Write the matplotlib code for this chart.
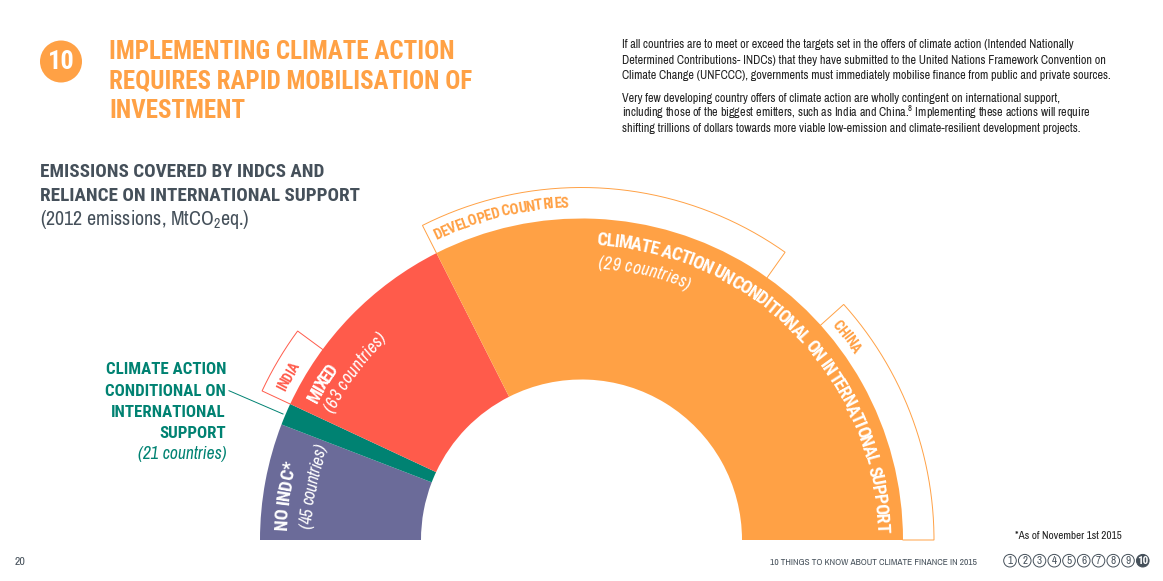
import numpy as np
import matplotlib
matplotlib.use("Agg")
import matplotlib.pyplot as plt
from matplotlib.patches import Wedge, Circle
from matplotlib.textpath import TextPath
from matplotlib.font_manager import FontProperties

# ---- data (share of 2012 emissions, % estimated from the arc angles)
groups = ["NO INDC*", "CLIMATE ACTION CONDITIONAL", "MIXED", "CLIMATE ACTION UNCONDITIONAL"]
emission_share = [11.7, 2.2, 21.2, 64.9]
group_colors = ["#6B6B99", "#008272", "#FF5B4B", "#FFA145"]
india_share = 6.3
developed_share = 34.5
china_share = 23.3
footer_numbers = list(range(1, 11))

title_lines = ["IMPLEMENTING CLIMATE ACTION", "REQUIRES RAPID MOBILISATION OF", "INVESTMENT"]
subtitle_lines = ["EMISSIONS COVERED BY INDCS AND", "RELIANCE ON INTERNATIONAL SUPPORT"]
label_lines = ["CLIMATE ACTION", "CONDITIONAL ON", "INTERNATIONAL", "SUPPORT"]
body_lines = [
    "If all countries are to meet or exceed the targets set in the offers of climate action (Intended Nationally",
    "Determined Contributions- INDCs) that they have submitted to the United Nations Framework Convention on",
    "Climate Change (UNFCCC), governments must immediately mobilise finance from public and private sources.",
    "Very few developing country offers of climate action are wholly contingent on international support,",
    "including those of the biggest emitters, such as India and China.$^{8}$ Implementing these actions will require",
    "shifting trillions of dollars towards more viable low-emission and climate-resilient development projects.",
]

FONT = ["Archivo Narrow", "Liberation Sans", "DejaVu Sans"]
BOLD = ["Roboto Condensed", "Liberation Sans", "DejaVu Sans"]
plt.rcParams["font.family"] = FONT
plt.rcParams["mathtext.default"] = "regular"
W, H = 1163, 581
ORANGE, TEAL, DARK = "#FFA145", "#008272", "#45505A"

fig = plt.figure(figsize=(W / 100, H / 100), dpi=100)
ax = fig.add_axes([0, 0, 1, 1])
ax.set_xlim(0, W)
ax.set_ylim(0, H)
ax.axis("off")

def Y(y):
    return H - y

def btext(x, y, s, size, color, **kw):
    ax.text(x, Y(y), s, family=BOLD, fontweight="bold", fontsize=size, color=color, **kw)

CX, CY, R_OUT, R_IN, R_BR = 581.5, Y(540), 321.5, 160.5, 352.5

def ang(share_cum):
    return 180 - share_cum * 1.8

cum = np.cumsum([0] + emission_share)
for i, c in enumerate(group_colors):
    ax.add_patch(Wedge((CX, CY), R_OUT, ang(cum[i + 1]), ang(cum[i]),
                       width=R_OUT - R_IN, fc=c, ec="none", zorder=2))

def bracket(a0, a1, color):
    t = np.radians(np.linspace(a0, a1, 200))
    xs = np.r_[CX + R_OUT * np.cos(t[0]), CX + R_BR * np.cos(t), CX + R_OUT * np.cos(t[-1])]
    ys = np.r_[CY + R_OUT * np.sin(t[0]), CY + R_BR * np.sin(t), CY + R_OUT * np.sin(t[-1])]
    ax.plot(xs, ys, color=color, lw=0.7, zorder=1, solid_joinstyle="miter")

bracket(ang(cum[2]), ang(cum[2] + india_share), "#FF5B4B")
bracket(ang(cum[3]), ang(cum[3] + developed_share), ORANGE)
bracket(china_share * 1.8, 0, ORANGE)

def arc_text(s, r, a0, a1, size, color, bold=True, style="normal"):
    """Place s char by char clockwise from angle a0 to a1 (degrees) on radius r."""
    fam = BOLD if bold else FONT
    weight = "bold" if bold else "normal"
    fp = FontProperties(family=fam, weight=weight, style=style, size=size)
    adv = np.array([TextPath((0, 0), s[:k] + "|", prop=fp).get_extents().x1 for k in range(len(s) + 1)])
    adv = adv - adv[0]
    total = adv[-1]
    for k, ch in enumerate(s):
        mid = (adv[k] + adv[k + 1]) / 2 / total
        a = a0 + (a1 - a0) * mid
        t = np.radians(a)
        ax.text(CX + r * np.cos(t), CY + r * np.sin(t), ch, rotation=a - 90,
                rotation_mode="anchor", ha="center", va="baseline", fontsize=size, family=fam,
                color=color, fontweight=weight, fontstyle=style, zorder=4)

arc_text("CLIMATE ACTION UNCONDITIONAL ON INTERNATIONAL SUPPORT", 295, 87, 1.5, 13.2, "white")
arc_text("(29 countries)", 272, 86.6, 67, 12.6, "white", bold=False, style="italic")
arc_text("DEVELOPED COUNTRIES", 333, 115.8, 92.2, 10.8, ORANGE)
arc_text("CHINA", 330, 40.7, 34.3, 10.5, ORANGE)
arc_text("INDIA", 331, 153.5, 148.4, 10, "#FF5B4B")
arc_text("MIXED", 297, 152.6, 144.8, 13.2, "white")
arc_text("(63 countries)", 279, 153, 134, 12.6, "white", bold=False, style="italic")
arc_text("NO INDC*", 295, 178, 165, 13.2, "white")
arc_text("(45 countries)", 270, 177.5, 160, 12.6, "white", bold=False, style="italic")

# header
ax.add_patch(Circle((61, Y(61.5)), 21, fc=ORANGE, ec="none"))
btext(61, 62, "10", 19, "white", ha="center", va="center")
for line, y in zip(title_lines, [59.3, 88.7, 117.7]):
    btext(109, y, line, 18, ORANGE, va="baseline")

for line, y in zip(subtitle_lines, [177, 201]):
    btext(40, y, line, 13.8, DARK, va="baseline")
ax.text(40, Y(225), "(2012 emissions, MtCO$_{2}$eq.)", color=DARK, fontsize=14.4, va="baseline")

for line, y in zip(body_lines, [48.5, 63.5, 79, 102, 117, 132]):
    ax.text(622, Y(y), line, color="#222222", fontsize=8.75, va="baseline")

# conditional label
for line, y in zip(label_lines, [374, 395.5, 416.7, 438]):
    btext(226, y, line, 12.2, TEAL, ha="right", va="baseline")
ax.text(226, Y(459), "(21 countries)", color=TEAL, fontsize=12.6, fontstyle="italic", ha="right", va="baseline")
ax.plot([229, 283], [Y(390.7), Y(414)], color=TEAL, lw=0.7, zorder=1)

# footer
ax.text(1015, Y(539), "*As of November 1st 2015", color="#222222", fontsize=8.05, va="baseline")
ax.text(15, Y(565), "20", color=DARK, fontsize=8.5, va="baseline")
ax.text(770, Y(565), "10 THINGS TO KNOW ABOUT CLIMATE FINANCE IN 2015", color=DARK, fontsize=6.75, va="baseline")
for n in footer_numbers:
    x = 1010 + (n - 1) * 14.75
    last = n == footer_numbers[-1]
    ax.add_patch(Circle((x, Y(560.7)), 6.3, fc=DARK if last else "white", ec=DARK, lw=0.7))
    ax.text(x, Y(561), str(n), fontsize=8, ha="center", va="center",
            color="white" if last else DARK, fontweight="bold" if last else "normal",
            family=BOLD if last else FONT)

fig.savefig("out.png", dpi=100)
